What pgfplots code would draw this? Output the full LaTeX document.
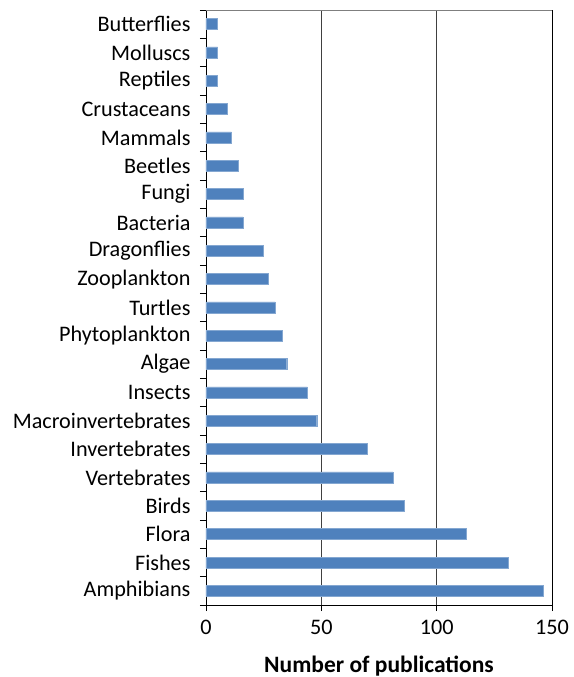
\documentclass[border=0pt]{standalone}
\usepackage{fontspec}
\setmainfont{Carlito}
\usepackage{pgfplots}
\pgfplotsset{compat=1.18}
\definecolor{barblue}{HTML}{4F81BD}
\definecolor{framegray}{HTML}{7F7F7F}

\begin{document}
\begin{tikzpicture}
\useasboundingbox (-206pt,-72pt) rectangle (367pt,605pt);
\begin{axis}[
    scale only axis,
    width=346pt, height=595pt,
    xbar,
    bar width=11pt,
    xmin=0, xmax=150,
    ymin=-0.5, ymax=20.5,
    xtick={0,50,100,150},
    ytick={0,...,20},
    yticklabels={Amphibians,Fishes,Flora,Birds,Vertebrates,Invertebrates,
      Macroinvertebrates,Insects,Algae,Phytoplankton,Turtles,Zooplankton,
      Dragonflies,Bacteria,Fungi,Beetles,Mammals,Crustaceans,Reptiles,
      Molluscs,Butterflies},
    minor ytick={-0.5,0.5,...,20.5},
    tick align=outside,
    major tick length=6pt,
    every tick/.style={black, line width=0.8pt},
    y tick style={draw=none},
    minor y tick style={draw=black, line width=0.8pt},
    minor tick length=6pt,
    xtick pos=bottom, ytick pos=left,
    xmajorgrids, grid style={black!75, line width=0.8pt},
    axis line style={black, line width=0.8pt},
    /pgf/number format/assume math mode=true,
    ticklabel style={font=\fontsize{22.2}{25}\selectfont},
    yticklabel style={xshift=-6pt},
    xticklabel style={yshift=-6pt},
    xlabel={\textbf{Number of publications}},
    xlabel style={font=\fontsize{23.5}{26}\selectfont, yshift=-14pt},
    clip=false,
]
\addplot[fill=barblue, draw=barblue!70!white, line width=0.4pt] coordinates {
  (146,0) (131,1) (113,2) (86,3) (81,4) (70,5) (48,6) (44,7) (35,8) (33,9)
  (30,10) (27,11) (25,12) (16,13) (16,14) (14,15) (11,16) (9,17) (5,18)
  (5,19) (5,20)
};
\draw[framegray, line width=0.9pt] (rel axis cs:0,1) -- (rel axis cs:1,1);
\end{axis}
\end{tikzpicture}
\end{document}
